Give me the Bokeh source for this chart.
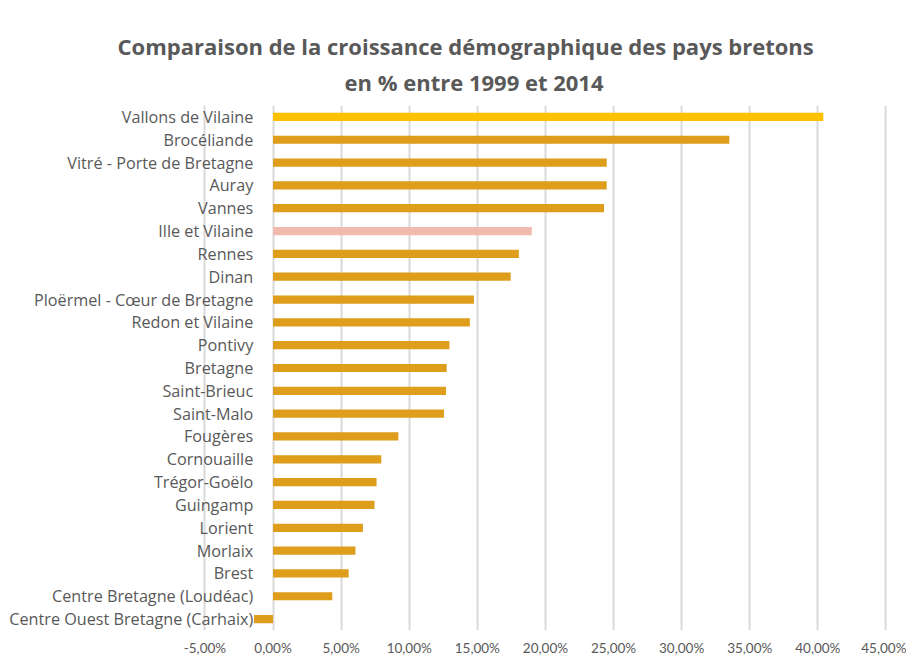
from bokeh.plotting import figure
from bokeh.models import FactorRange, FixedTicker, Title, ColumnDataSource, Range1d
from bokeh.core.properties import value
from bokeh.embed import file_html
from bokeh.resources import INLINE

# ---- data ----
categories = [
    "Vallons de Vilaine", "Brocéliande", "Vitré - Porte de Bretagne", "Auray", "Vannes",
    "Ille et Vilaine", "Rennes", "Dinan", "Ploërmel - Cœur de Bretagne", "Redon et Vilaine",
    "Pontivy", "Bretagne", "Saint-Brieuc", "Saint-Malo", "Fougères", "Cornouaille",
    "Trégor-Goëlo", "Guingamp", "Lorient", "Morlaix", "Brest",
    "Centre Bretagne (Loudéac)", "Centre Ouest Bretagne (Carhaix)",
]
growth_pct = [
    40.4, 33.5, 24.5, 24.5, 24.3,
    19.0, 18.05, 17.45, 14.75, 14.45,
    12.95, 12.75, 12.7, 12.55, 9.2, 7.95,
    7.6, 7.45, 6.6, 6.05, 5.55,
    4.35, -1.4,
]
ticks = [-5, 0, 5, 10, 15, 20, 25, 30, 35, 40, 45]
tick_labels = ["-5,00%", "0,00%", "5,00%", "10,00%", "15,00%", "20,00%",
               "25,00%", "30,00%", "35,00%", "40,00%", "45,00%"]
title_lines = ["Comparaison de la croissance démographique des pays bretons",
               "en % entre 1999 et 2014"]

# ---- styling ----
BASE = "#DE9D1A"
SPECIAL = {"Vallons de Vilaine": "#FFC000", "Ille et Vilaine": "#F0BAAE"}
colors = [SPECIAL.get(c, BASE) for c in categories]
TEXT = "#595959"
FONT = "Open Sans"

src = ColumnDataSource(dict(cat=categories, val=growth_pct, color=colors,
                            lx=[-1.45] * len(categories)))

p = figure(width=906, height=658, output_backend="svg", toolbar_location=None,
           y_range=FactorRange(factors=list(reversed(categories))),
           x_range=Range1d(-20.01, 46.51), y_axis_location=None,
           min_border_left=0, min_border_right=0, min_border_top=105,
           min_border_bottom=25)

p.hbar(y="cat", left=0, right="val", height=0.36, color="color", line_color=None,
       source=src)
p.text(x="lx", y="cat", text="cat", source=src, text_align="right",
       text_baseline="middle", text_font=value(FONT), text_font_size="16.2px",
       text_color=TEXT)

p.xaxis.ticker = FixedTicker(ticks=ticks)
p.xaxis.major_label_overrides = {t: l for t, l in zip(ticks, tick_labels)}
p.xaxis.axis_line_color = None
p.xaxis.major_tick_line_color = None
p.xaxis.minor_tick_line_color = None
p.xaxis.major_tick_out = 0
p.xaxis.major_label_standoff = 9
p.xaxis.major_label_text_font = "Lato"
p.xaxis.major_label_text_font_size = "13.5px"
p.xaxis.major_label_text_color = TEXT

p.xgrid.grid_line_color = "#D9D9D9"
p.xgrid.grid_line_width = 2
p.ygrid.grid_line_color = None
p.outline_line_color = None

p.title = None
p.add_layout(Title(text=title_lines[1], align="left", text_font=FONT,
                   text_font_size="22px", text_font_style="bold", text_color=TEXT,
                   standoff=18, offset=344), "above")
p.add_layout(Title(text=title_lines[0], align="left", text_font=FONT,
                   text_font_size="22px", text_font_style="bold", text_color=TEXT,
                   standoff=-10, offset=117), "above")

open("out.html", "w").write(file_html(p, INLINE))
